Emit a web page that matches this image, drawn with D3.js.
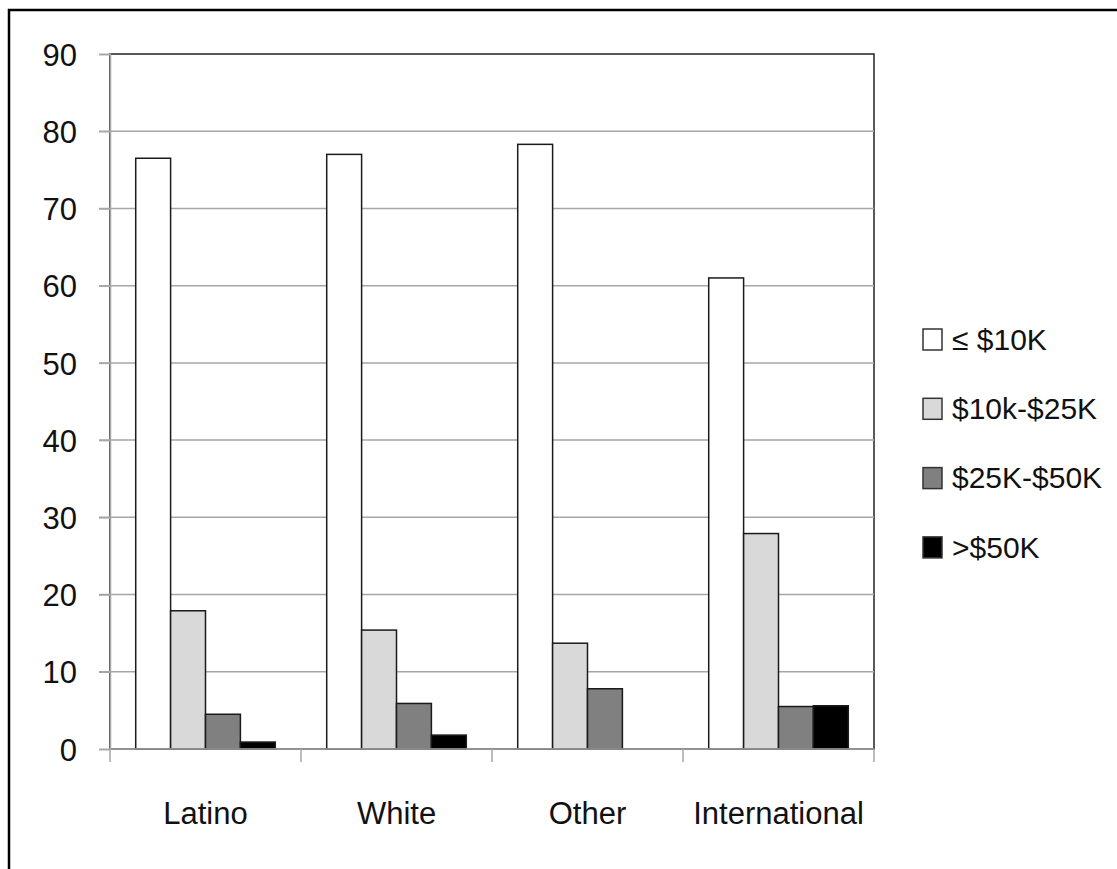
<!DOCTYPE html>
<html><head><meta charset="utf-8">
<script src="https://cdn.jsdelivr.net/npm/d3@7"></script>
<style>body{margin:0;background:#fff;} svg{display:block;} text{font-family:"Liberation Sans",Arial,sans-serif;fill:#111;}</style>
</head><body>
<svg id="c" width="1117" height="869"></svg>
<script>
const categories = ["Latino", "White", "Other", "International"];
const seriesNames = ["≤ $10K", "$10k-$25K", "$25K-$50K", ">$50K"];
const le10K = [76.5, 77.0, 78.3, 61.0];
const k10to25 = [17.9, 15.4, 13.7, 27.9];
const k25to50 = [4.5, 5.9, 7.8, 5.5];
const gt50K = [0.9, 1.8, 0, 5.6];
const yTicks = [0, 10, 20, 30, 40, 50, 60, 70, 80, 90];
const seriesValues = [le10K, k10to25, k25to50, gt50K];
const fills = ["#ffffff", "#d9d9d9", "#808080", "#000000"];

const svg = d3.select("#c");
// outer frame (partially cut off at right/bottom)
svg.append("rect").attr("x", 9).attr("y", 10).attr("width", 1200).attr("height", 1000)
  .attr("fill", "none").attr("stroke", "#000").attr("stroke-width", 2.5);

const L = 110, R = 874, T = 54, B = 749;
const x0 = d3.scaleBand().domain(categories).range([L, R]).padding(0);
const bw = x0.bandwidth();
const gp = 0.1346;
const x1 = d3.scaleBand().domain(d3.range(4)).range([bw * gp, bw * (1 - gp)]).padding(0);
const y = d3.scaleLinear().domain([0, 90]).range([B, T]);

// plot area border
svg.append("rect").attr("x", L).attr("y", T).attr("width", R - L).attr("height", B - T)
  .attr("fill", "none").attr("stroke", "#222").attr("stroke-width", 1.5);

// gridlines
const grid = svg.append("g");
grid.selectAll("line").data(yTicks.filter(d => d > 0 && d < 90)).join("line")
  .attr("x1", L - 11).attr("x2", R).attr("y1", d => y(d)).attr("y2", d => y(d))
  .attr("stroke", "#a6a6a6").attr("stroke-width", 1.5);

// y axis
const yAxis = svg.append("g").attr("transform", `translate(${L},0)`)
  .call(d3.axisLeft(y).tickValues(yTicks).tickSize(11).tickPadding(0).tickFormat(d3.format("d")));
yAxis.select(".domain").attr("stroke", "#a6a6a6").attr("stroke-width", 1.5);
yAxis.selectAll(".tick line").attr("stroke", "#a6a6a6").attr("stroke-width", 1.5);
yAxis.selectAll(".tick text").attr("x", -33).attr("font-size", 31)
  .attr("font-family", "Liberation Sans, Arial, sans-serif").attr("fill", "#111").attr("dy", "0.36em");

// bars
const groups = svg.append("g").selectAll("g").data(categories).join("g")
  .attr("transform", d => `translate(${x0(d)},0)`);
groups.selectAll("rect").data((c, ci) => seriesValues.map((s, si) => ({si, v: s[ci]})).filter(d => d.v > 0)).join("rect")
  .attr("x", d => x1(d.si)).attr("width", x1.bandwidth())
  .attr("y", d => y(d.v)).attr("height", d => y(0) - y(d.v))
  .attr("fill", d => fills[d.si]).attr("stroke", "#1a1a1a").attr("stroke-width", 1.5);

// x axis
const xAxisG = svg.append("g").attr("transform", `translate(0,${B})`);
xAxisG.append("line").attr("x1", L).attr("x2", R).attr("y1", 0).attr("y2", 0)
  .attr("stroke", "#a6a6a6").attr("stroke-width", 1.5);
const bounds = categories.map(c => x0(c)).concat([R]);
xAxisG.selectAll("line.t").data(bounds).join("line").attr("class", "t")
  .attr("x1", d => d).attr("x2", d => d).attr("y1", 0).attr("y2", 13)
  .attr("stroke", "#a6a6a6").attr("stroke-width", 1.5);
xAxisG.selectAll("text").data(categories).join("text")
  .attr("x", d => x0(d) + bw / 2).attr("y", 64).attr("dy", "0.36em")
  .attr("text-anchor", "middle").attr("font-size", 31).text(d => d);

// legend
const lg = svg.append("g").selectAll("g").data(seriesNames).join("g")
  .attr("transform", (d, i) => `translate(923,${339 + i * 69.3})`);
lg.append("rect").attr("x", 0).attr("y", -10).attr("width", 19).attr("height", 21)
  .attr("fill", (d, i) => fills[i]).attr("stroke", "#333").attr("stroke-width", 1.5);
lg.append("text").attr("x", 29).attr("y", 0).attr("dy", "0.36em").attr("font-size", 30).text(d => d);
</script>
</body></html>
